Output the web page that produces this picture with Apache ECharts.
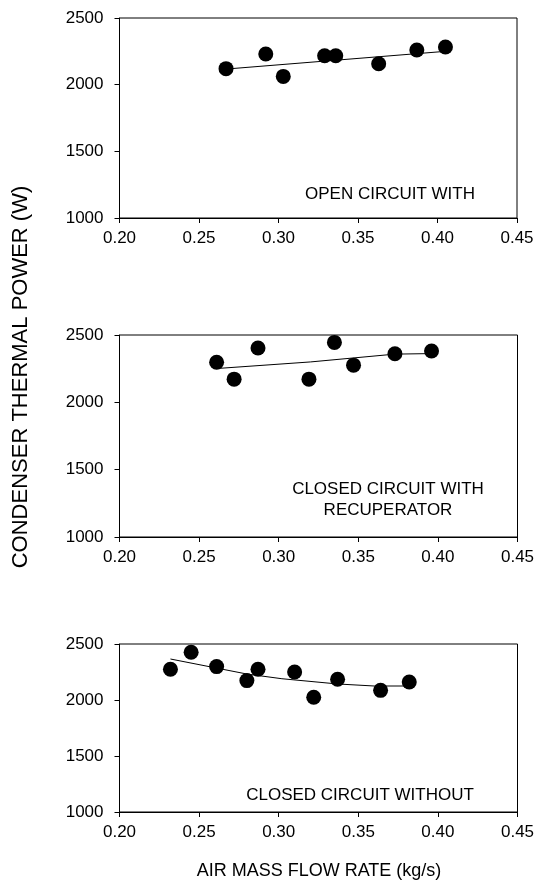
<!DOCTYPE html>
<html>
<head>
<meta charset="utf-8">
<script src="https://cdn.jsdelivr.net/npm/echarts@6/dist/echarts.min.js"></script>
<style>html,body{margin:0;padding:0;background:#fff}#c{width:539px;height:882px}</style>
</head>
<body>
<div id="c"></div>
<script>
// Panel 1: OPEN CIRCUIT WITH
var openX = [0.267, 0.292, 0.303, 0.329, 0.336, 0.363, 0.387, 0.405];
var openY = [2120, 2230, 2062, 2217, 2217, 2157, 2260, 2282];
var openTrendX = [0.267, 0.405];
var openTrendY = [2117, 2250];
// Panel 2: CLOSED CIRCUIT WITH RECUPERATOR
var recX = [0.261, 0.272, 0.287, 0.319, 0.335, 0.347, 0.373, 0.396];
var recY = [2298, 2172, 2403, 2172, 2445, 2276, 2361, 2381];
var recTrendX = [0.261, 0.320, 0.373, 0.396];
var recTrendY = [2251, 2300, 2358, 2362];
// Panel 3: CLOSED CIRCUIT WITHOUT
var woX = [0.232, 0.245, 0.261, 0.280, 0.287, 0.310, 0.322, 0.337, 0.364, 0.382];
var woY = [2274, 2426, 2298, 2173, 2274, 2250, 2024, 2185, 2086, 2161];
var woTrendX = [0.232, 0.280, 0.302, 0.337, 0.360, 0.382];
var woTrendY = [2366, 2232, 2190, 2143, 2125, 2125];

var xTicks = [0.20, 0.25, 0.30, 0.35, 0.40, 0.45];
var yTicks = [1000, 1500, 2000, 2500];
var yTitle = 'CONDENSER THERMAL POWER (W)';
var xTitle = 'AIR MASS FLOW RATE (kg/s)';
var labels = [['OPEN CIRCUIT WITH'], ['CLOSED CIRCUIT WITH', 'RECUPERATOR'], ['CLOSED CIRCUIT WITHOUT']];

function zip(a, b) { return a.map(function (v, i) { return [v, b[i]]; }); }

var FONT = '"Liberation Sans", Arial, sans-serif';
var grids = [
  {left: 119.5, top: 18, width: 397.5, height: 200},
  {left: 119.5, top: 335, width: 398, height: 202},
  {left: 119.5, top: 644, width: 398, height: 168}
];
var xAxes = [], yAxes = [], series = [];
var sets = [[openX, openY, openTrendX, openTrendY], [recX, recY, recTrendX, recTrendY], [woX, woY, woTrendX, woTrendY]];
grids.forEach(function (g, i) {
  g.show = true; g.borderColor = '#000'; g.borderWidth = 1; g.backgroundColor = 'transparent';
  xAxes.push({
    type: 'value', gridIndex: i, min: xTicks[0], max: xTicks[xTicks.length - 1], interval: 0.05,
    axisLine: {lineStyle: {color: '#000', width: 1}},
    axisTick: {show: true, inside: false, length: 5, lineStyle: {color: '#000'}},
    splitLine: {show: false},
    axisLabel: {color: '#000', fontFamily: FONT, fontSize: 17, margin: 12, formatter: function (v) { return v.toFixed(2); }}
  });
  yAxes.push({
    type: 'value', gridIndex: i, min: yTicks[0], max: yTicks[yTicks.length - 1], interval: 500,
    axisLine: {show: true, lineStyle: {color: '#000', width: 1}},
    axisTick: {show: true, inside: false, length: 5, lineStyle: {color: '#000'}},
    splitLine: {show: false},
    axisLabel: {color: '#000', fontFamily: FONT, fontSize: 17, margin: 16, formatter: function (v) { return String(v); }}
  });
  var s = sets[i];
  series.push({
    type: 'line', xAxisIndex: i, yAxisIndex: i, data: zip(s[2], s[3]), symbol: 'none',
    lineStyle: {color: '#000', width: 1}, silent: true, z: 2
  });
  series.push({
    type: 'scatter', xAxisIndex: i, yAxisIndex: i, data: zip(s[0], s[1]), symbol: 'circle', symbolSize: 15,
    itemStyle: {color: '#000', opacity: 1}, z: 3
  });
});

var annPos = [[390, 194], [388, 500], [360, 795]];
var texts = [];
labels.forEach(function (lines, i) {
  texts.push({
    type: 'text', x: annPos[i][0], y: annPos[i][1],
    style: {text: lines.join('\n'), fill: '#000', font: '17px ' + FONT, textAlign: 'center', textVerticalAlign: 'middle', lineHeight: 21}
  });
});
texts.push({
  type: 'text', x: 319, y: 871,
  style: {text: xTitle, fill: '#000', font: '18px ' + FONT, textAlign: 'center', textVerticalAlign: 'middle'}
});
texts.push({
  type: 'text', x: 21, y: 377, rotation: Math.PI / 2,
  style: {text: yTitle, fill: '#000', font: '22px ' + FONT, textAlign: 'center', textVerticalAlign: 'middle'}
});

var chart = echarts.init(document.getElementById('c'), null, {renderer: 'canvas'});
chart.setOption({
  animation: false,
  backgroundColor: '#fff',
  grid: grids,
  xAxis: xAxes,
  yAxis: yAxes,
  series: series,
  graphic: texts
});
</script>
</body>
</html>
